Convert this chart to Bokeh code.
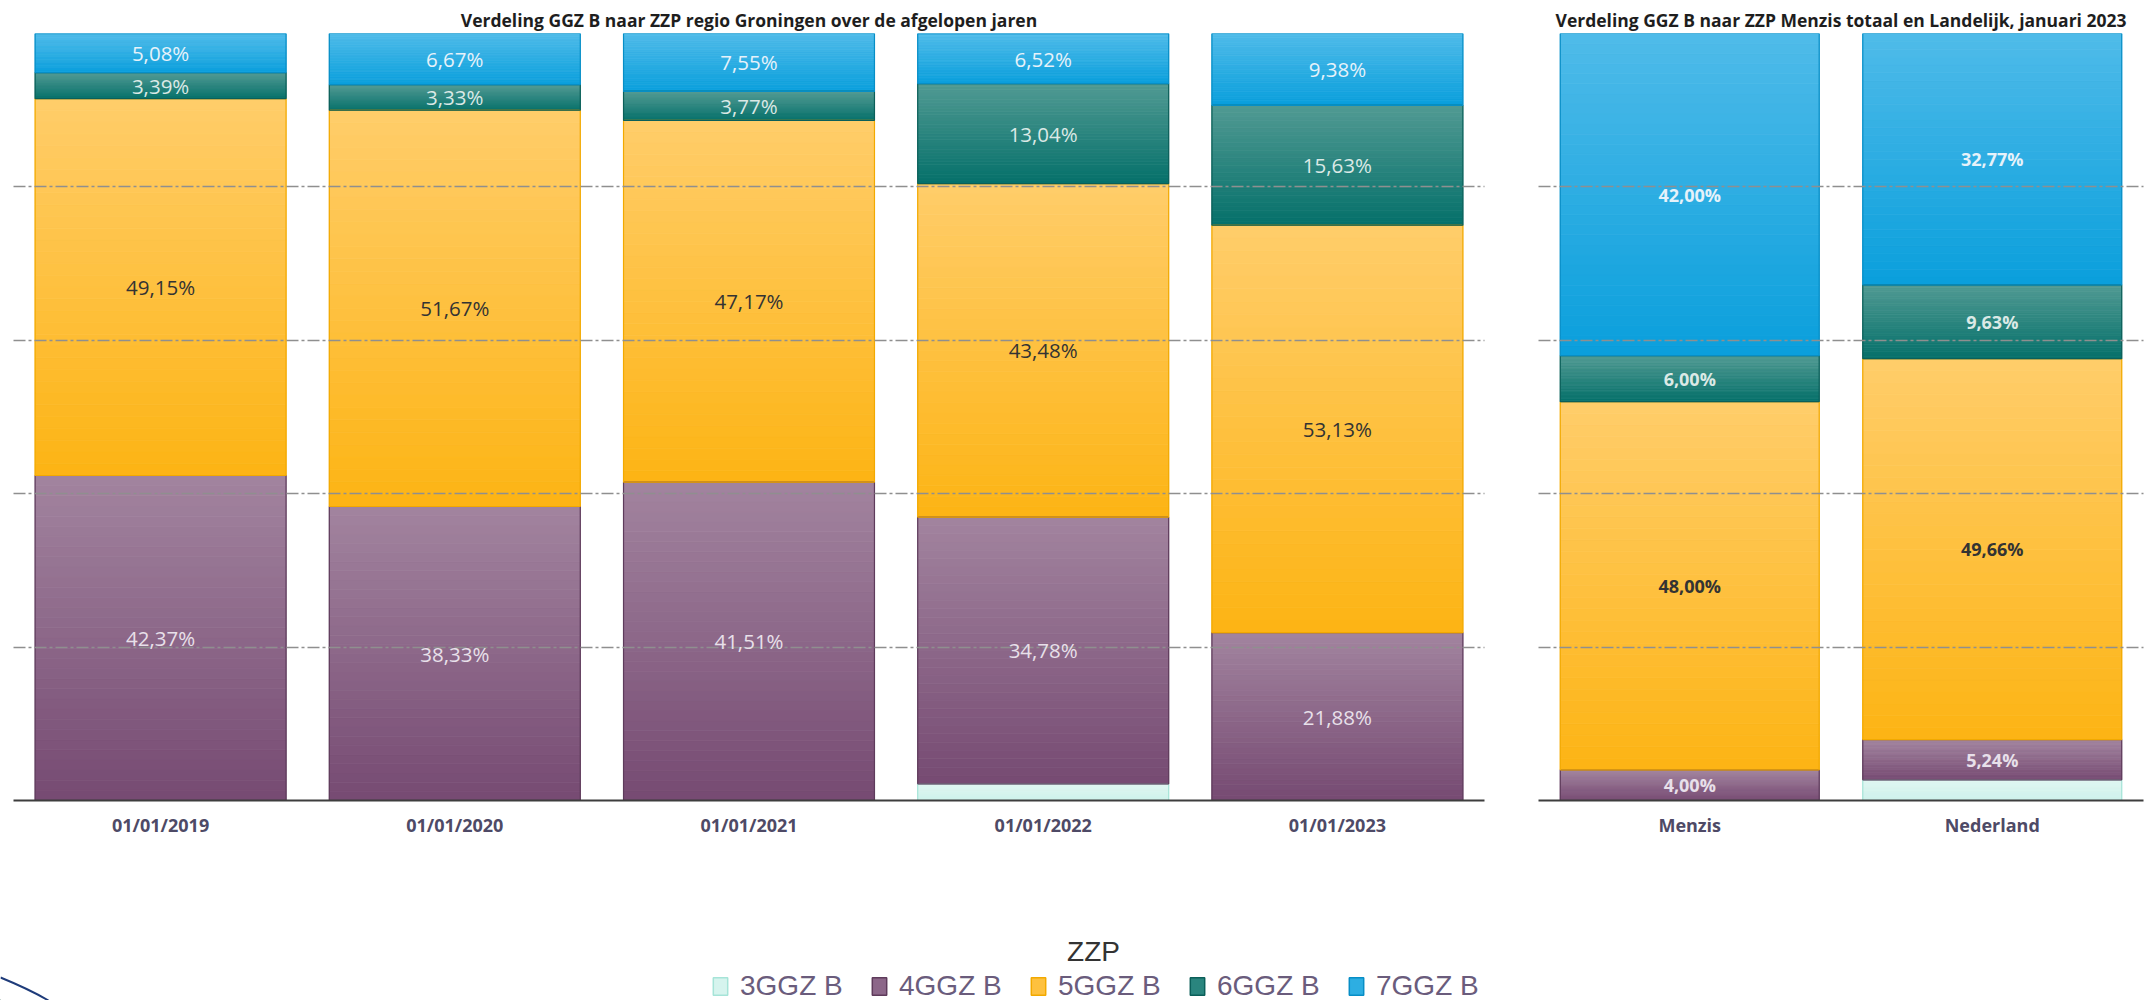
from bokeh.plotting import figure
from bokeh.models import (ColumnDataSource, FactorRange, Range1d, FixedTicker,
                          LabelSet, Legend, LegendItem, Label)
from bokeh.layouts import column, row
from bokeh.embed import file_html
from bokeh.resources import INLINE
from bokeh.core.properties import value

# ---------------- data ----------------
series = ["3GGZ B", "4GGZ B", "5GGZ B", "6GGZ B", "7GGZ B"]

years = ["01/01/2019", "01/01/2020", "01/01/2021", "01/01/2022", "01/01/2023"]
ggz3_years = [0.0, 0.0, 0.0, 2.17, 0.0]
ggz4_years = [42.37, 38.33, 41.51, 34.78, 21.88]
ggz5_years = [49.15, 51.67, 47.17, 43.48, 53.13]
ggz6_years = [3.39, 3.33, 3.77, 13.04, 15.63]
ggz7_years = [5.08, 6.67, 7.55, 6.52, 9.38]

regions = ["Menzis", "Nederland"]
ggz3_regions = [0.0, 2.70]
ggz4_regions = [4.00, 5.24]
ggz5_regions = [48.00, 49.66]
ggz6_regions = [6.00, 9.63]
ggz7_regions = [42.00, 32.77]

y_ticks = [0, 20, 40, 60, 80, 100]

title_left = "Verdeling GGZ B naar ZZP regio Groningen over de afgelopen jaren"
title_right = "Verdeling GGZ B naar ZZP Menzis totaal en Landelijk, januari 2023"
legend_title = "ZZP"

# ---------------- styles ----------------
bottom_colors = ["#cdf2eb", "#764a72", "#fdb414", "#05706a", "#0a9fdc"]
top_colors = ["#e0f6f2", "#a2849f", "#ffcd6a", "#519a93", "#4fbbe9"]
mid_colors = ["#d6f4ee", "#8c6789", "#fec13f", "#2a857e", "#2daee2"]
outline_colors = ["#a6e4d8", "#5e3b5b", "#f2a900", "#0b5f59", "#078ec6"]
label_colors = [None, "#e8e0ea", "#333333", "#dbe9e6", "#e6f2fa"]

N_SLICES = 32
FIG_H = 840


def _hex(c):
    c = c.lstrip("#")
    return [int(c[i:i + 2], 16) for i in (0, 2, 4)]


def mix(c1, c2, f):
    a, b = _hex(c1), _hex(c2)
    return "#%02x%02x%02x" % tuple(int(round(a[i] + (b[i] - a[i]) * f)) for i in range(3))


def fmt(v):
    return ("%.2f" % v).replace(".", ",") + "%"


def make_chart(cats, cols, title_text, width, min_left, min_right, bar_w,
               lbl_size, lbl_style):
    p = figure(x_range=FactorRange(factors=cats), y_range=Range1d(0, 100),
               width=width, height=FIG_H, output_backend="svg",
               toolbar_location=None, min_border_left=min_left,
               min_border_right=min_right, min_border_top=33,
               min_border_bottom=40, title=title_text)
    p.outline_line_color = None
    p.background_fill_color = "white"

    sx, sb, st, sc = [], [], [], []
    ox, ob, ot, oc = [], [], [], []
    lx, ly, lt, lc = [], [], [], []
    for i, cat in enumerate(cats):
        base = 0.0
        for s, vals in enumerate(cols):
            v = vals[i]
            if v <= 0:
                continue
            for k in range(N_SLICES):
                sx.append(cat)
                sb.append(base + v * k / N_SLICES)
                st.append(base + v * (k + 1) / N_SLICES)
                sc.append(mix(bottom_colors[s], top_colors[s], (k + 0.5) / N_SLICES))
            ox.append(cat); ob.append(base); ot.append(base + v); oc.append(outline_colors[s])
            if label_colors[s] is not None:
                lx.append(cat); ly.append(base + v / 2.0); lt.append(fmt(v)); lc.append(label_colors[s])
            base += v

    slices = ColumnDataSource(dict(x=sx, bottom=sb, top=st, color=sc))
    p.vbar(x="x", bottom="bottom", top="top", width=bar_w, source=slices,
           fill_color="color", line_color="color", line_width=0.8)
    outlines = ColumnDataSource(dict(x=ox, bottom=ob, top=ot, color=oc))
    p.vbar(x="x", bottom="bottom", top="top", width=bar_w, source=outlines,
           fill_alpha=0, line_color="color", line_width=1.2)

    labels = ColumnDataSource(dict(x=lx, y=ly, text=lt, color=lc))
    ls = LabelSet(x="x", y="y", text="text", source=labels, text_color="color",
                  text_align="center", text_baseline="middle",
                  text_font=value("Open Sans"), text_font_size=value(lbl_size),
                  text_font_style=lbl_style, level="overlay")
    p.add_layout(ls)

    p.yaxis.visible = False
    p.xgrid.visible = False
    p.ygrid.ticker = FixedTicker(ticks=y_ticks)
    p.ygrid.grid_line_color = "#8f8f8f"
    p.ygrid.grid_line_width = 1.5
    p.ygrid.grid_line_dash = "12 3 3 3"
    p.ygrid.level = "annotation"

    p.xaxis.axis_line_color = "#3d3d3d"
    p.xaxis.axis_line_width = 2
    p.xaxis.major_tick_line_color = None
    p.xaxis.minor_tick_line_color = None
    p.xaxis.major_label_standoff = 6
    p.xaxis.major_label_text_font = "Open Sans"
    p.xaxis.major_label_text_font_size = "18px"
    p.xaxis.major_label_text_font_style = "bold"
    p.xaxis.major_label_text_color = "#4e4a66"

    p.title.align = "center"
    p.title.vertical_align = "top"
    p.title.text_font = "Open Sans"
    p.title.text_font_size = "17.5px"
    p.title.text_font_style = "bold"
    p.title.text_color = "#1e1e1e"
    p.title.standoff = 0
    p.title.text_line_height = 0.8
    return p


p1 = make_chart(years, [ggz3_years, ggz4_years, ggz5_years, ggz6_years, ggz7_years],
                title_left, 1500, 13, 16, 0.853, "20.5px", "normal")
p2 = make_chart(regions, [ggz3_regions, ggz4_regions, ggz5_regions, ggz6_regions, ggz7_regions],
                title_right, 651, 38, 8, 0.856, "18px", "bold")

# ---------------- legend ----------------
LW, LH = 2151, 160
p3 = figure(width=LW, height=LH, x_range=Range1d(0, LW), y_range=Range1d(0, LH),
            output_backend="svg", toolbar_location=None, min_border=0,
            x_axis_location=None, y_axis_location=None)
p3.outline_line_color = None
p3.xgrid.visible = False
p3.ygrid.visible = False

items = []
for s, name in enumerate(series):
    # legend swatch renderer (placed outside the visible range)
    r = p3.vbar(x=[-100], bottom=[-100], top=[-90], width=1,
                fill_color=mid_colors[s], line_color=outline_colors[s], line_width=1.5)
    items.append(LegendItem(label=name, renderers=[r]))

legend = Legend(items=items, orientation="horizontal", location=(711, -2),
                glyph_width=18, glyph_height=22, label_standoff=11,
                label_width=110, spacing=20, padding=0, margin=0,
                border_line_alpha=0, background_fill_alpha=0,
                label_text_font="Liberation Sans", label_text_font_size="28px",
                label_text_color="#6a5c7c", label_height=22)
p3.add_layout(legend)

p3.add_layout(Label(x=1093, y=49, text=legend_title, text_align="center",
                    text_baseline="middle", text_font="Liberation Sans",
                    text_font_size="28px", text_color="#333333"))

# small decorative stroke in the lower-left corner of the page
p3.bezier(x0=[0], y0=[23], x1=[48], y1=[0], cx0=[22], cy0=[14], cx1=[36], cy1=[7],
          line_color="#1f3c7a", line_width=2)

layout = column(row(p1, p2), p3)
open("out.html", "w").write(file_html(layout, INLINE))
